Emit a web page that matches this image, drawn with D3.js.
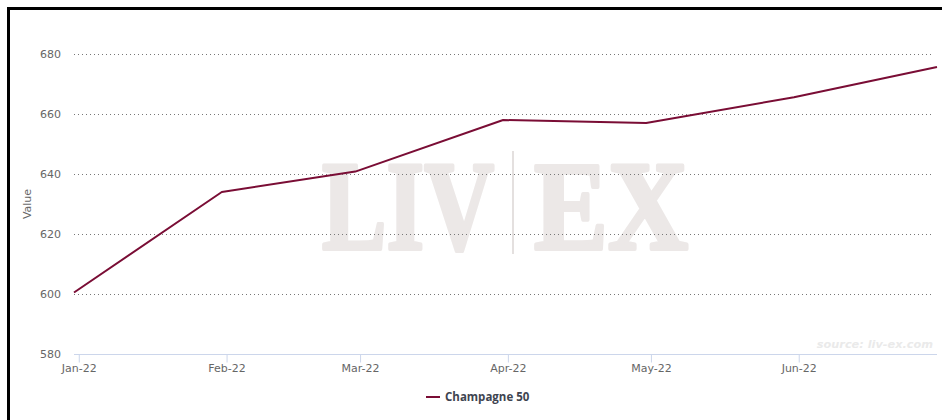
<!DOCTYPE html>
<html>
<head>
<meta charset="utf-8">
<script src="https://cdn.jsdelivr.net/npm/d3@7"></script>
<style>
  html, body { margin: 0; padding: 0; background: #fff; }
  svg { display: block; }
</style>
</head>
<body>
<svg id="chart" width="942" height="420"></svg>
<script>
// ---- data ----
const dates = ["2021-12-31", "2022-01-31", "2022-02-28", "2022-03-31", "2022-04-30", "2022-05-31", "2022-06-30"];
const champagne50 = [600.6, 634.1, 640.9, 658.1, 657.1, 665.7, 675.8];
const seriesName = "Champagne 50";
const yTicks = [580, 600, 620, 640, 660, 680];
const xTickDates = ["2022-01-01", "2022-02-01", "2022-03-01", "2022-04-01", "2022-05-01", "2022-06-01"];
const xTickLabels = ["Jan-22", "Feb-22", "Mar-22", "Apr-22", "May-22", "Jun-22"];

(function () {
const parse = d3.utcParse("%Y-%m-%d");
const data = dates.map((d, i) => ({ date: parse(d), value: champagne50[i] }));

const svg = d3.select("#chart");
const W = 942, H = 420;
const pLeft = 74, pRight = 937, pTop = 54.3, pBottom = 354.3;

const x = d3.scaleUtc().domain([parse(dates[0]), parse(dates[dates.length - 1])]).range([pLeft, pRight]);
const y = d3.scaleLinear().domain([580, 680]).range([pBottom, pTop]);

// frame (top & left thick black border)
svg.append("rect").attr("x", 8.5).attr("y", 8.5).attr("width", W + 10).attr("height", H + 10)
  .attr("fill", "none").attr("stroke", "#000").attr("stroke-width", 3);

// watermark
const wm = svg.append("g").attr("fill", "#ece8e7").attr("stroke", "#ece8e7").attr("stroke-width", 4)
  .attr("stroke-linejoin", "round")
  .attr("font-family", "Liberation Serif, DejaVu Serif, serif").attr("font-weight", "bold")
  .attr("font-size", 128);
wm.append("text").attr("x", 322).attr("y", 249).attr("textLength", 172).attr("lengthAdjust", "spacingAndGlyphs")
  .text("LIV");
wm.append("text").attr("x", 534).attr("y", 249).attr("textLength", 154).attr("lengthAdjust", "spacingAndGlyphs")
  .text("EX");
svg.append("line").attr("x1", 513).attr("x2", 513).attr("y1", 151).attr("y2", 254)
  .attr("stroke", "#e4e0df").attr("stroke-width", 2);

// grid lines
const gridG = svg.append("g");
yTicks.filter(t => t !== 580).forEach(t => {
  gridG.append("line").attr("x1", pLeft).attr("x2", 933).attr("y1", Math.round(y(t)) + 0.5).attr("y2", Math.round(y(t)) + 0.5)
    .attr("stroke", "#777").attr("stroke-width", 1).attr("stroke-dasharray", "1,3");
});

// y axis labels
const yAxis = d3.axisLeft(y).tickValues(yTicks).tickSize(0).tickPadding(0).tickFormat(d3.format("d"));
const yg = svg.append("g").attr("transform", `translate(61,0)`).call(yAxis);
yg.select(".domain").remove();
yg.selectAll("text").attr("fill", "#666").attr("font-size", 11)
  .attr("font-family", "Lucida Grande, DejaVu Sans, sans-serif");

// y axis title
svg.append("text").attr("transform", "translate(31,204) rotate(-90)").attr("text-anchor", "middle")
  .attr("fill", "#666").attr("font-size", 11).attr("font-family", "Lucida Grande, DejaVu Sans, sans-serif")
  .text("Value");

// x axis
const xAxis = d3.axisBottom(x).tickValues(xTickDates.map(parse)).tickSize(8).tickPadding(2)
  .tickFormat((d, i) => xTickLabels[i]);
const xg = svg.append("g").attr("transform", `translate(0,${Math.round(pBottom) + 0.5})`).call(xAxis);
xg.select(".domain").attr("d", `M${pLeft},0H${pRight}`).attr("stroke", "#ccd6eb");
xg.selectAll(".tick line").attr("stroke", "#ccd6eb");
xg.selectAll("text").attr("fill", "#666").attr("font-size", 11)
  .attr("font-family", "Lucida Grande, DejaVu Sans, sans-serif");

// source
svg.append("text").attr("x", 933).attr("y", 348).attr("text-anchor", "end")
  .attr("fill", "#eaeaea").attr("font-size", 11.3).attr("font-style", "italic").attr("font-weight", "bold")
  .attr("font-family", "DejaVu Sans, sans-serif").text("source: liv-ex.com");

// line
const line = d3.line().x(d => x(d.date)).y(d => y(d.value));
svg.append("path").datum(data).attr("d", line).attr("fill", "none")
  .attr("stroke", "#7a0d35").attr("stroke-width", 2).attr("stroke-linejoin", "round");

// legend
svg.append("line").attr("x1", 426).attr("x2", 440).attr("y1", 397).attr("y2", 397)
  .attr("stroke", "#7a0d35").attr("stroke-width", 2);
svg.append("text").attr("x", 445).attr("y", 401).attr("fill", "#3e4450")
  .attr("font-size", 11.5).attr("font-weight", "bold")
  .attr("font-family", "Open Sans, DejaVu Sans, sans-serif").text(seriesName);
})();
</script>
</body>
</html>
